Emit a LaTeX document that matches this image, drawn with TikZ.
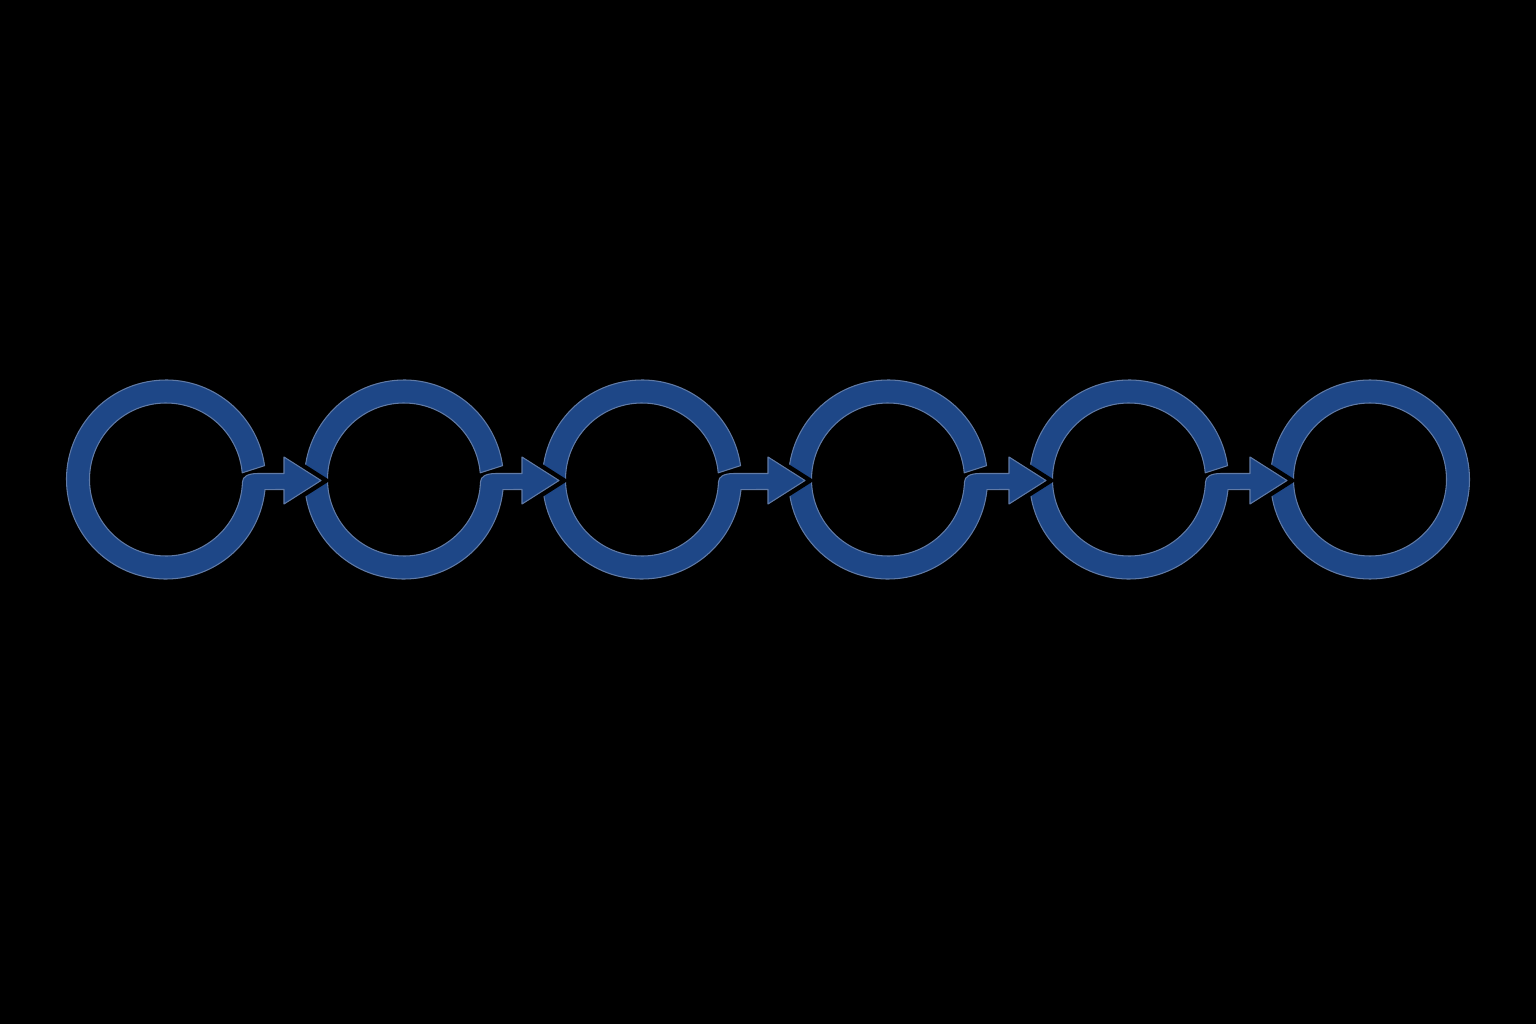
\documentclass[tikz,border=0pt]{standalone}
\usepackage{tikz}

\definecolor{ringblue}{RGB}{30,71,135}
\definecolor{ringedge}{RGB}{96,122,166}

\tikzset{
  ring/.style={fill=ringblue,draw=ringedge,line width=0.3pt,line join=round},
  notch/.style={draw=black,line width=1mm,miter limit=10}
}

\begin{document}
\begin{tikzpicture}
    \fill[black] (0,0) rectangle (15.36,10.24);
    \useasboundingbox (0,0) rectangle (15.36,10.24);

    % ring centres
    \foreach \i/\x in {1/1.66,2/4.04,3/6.42,4/8.88,5/11.29,6/13.70}
        \coordinate (R\i) at (\x,5.445);

    % last ring, no arrow
    \path[ring,even odd rule] (R6) circle (0.995) (R6) circle (0.765);

    % rings with arrows, right to left so each head cuts the next ring
    % \d = distance to the next ring
    \foreach \i/\d in {5/2.41,4/2.41,3/2.46,2/2.38,1/2.38} {
        \begin{scope}[shift={(R\i)}]
            \draw[notch] (\d-1.20,0.225) -- (\d-0.83,-0.01) -- (\d-1.20,-0.245);
            \path[ring] (8:0.995) arc[start angle=8,end angle=354.2,radius=0.995]
                -- (\d-1.20,-0.10) -- (\d-1.20,-0.245) -- (\d-0.83,-0.01)
                -- (\d-1.20,0.225) -- (\d-1.20,0.06) -- (0.92,0.06)
                .. controls (0.82,0.06) and (0.765,0.03) .. (358:0.765)
                arc[start angle=358,end angle=5,radius=0.765] -- cycle;
        \end{scope}
    }
\end{tikzpicture}
\end{document}
